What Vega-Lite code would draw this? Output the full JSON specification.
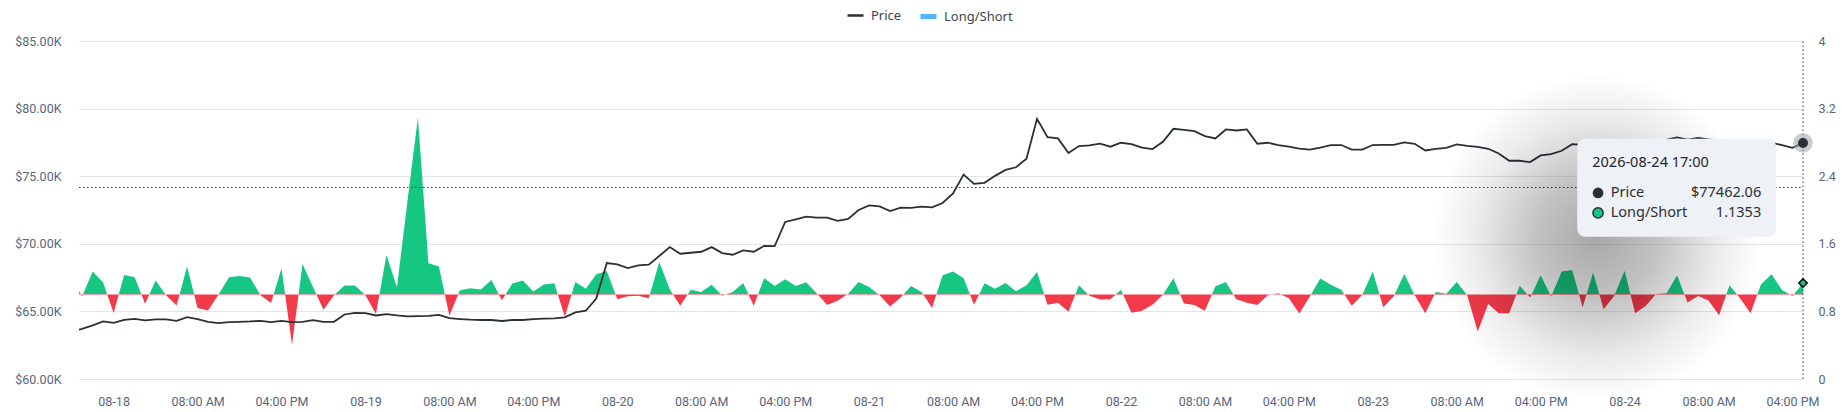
{
  "$schema": "https://vega.github.io/schema/vega-lite/v6.json",
  "width": 1724,
  "height": 338,
  "autosize": "none",
  "padding": {"left": 79, "top": 41, "right": 40, "bottom": 33},
  "background": "white",
  "config": {
    "view": {"stroke": null},
    "font": "Noto Sans",
    "axis": {"labelFont": "Roboto", "labelFontSize": 12.5, "labelColor": "#58667e", "ticks": false, "domain": false, "title": null},
    "legend": {"labelFont": "Noto Sans", "labelFontSize": 13, "labelColor": "#3d4451", "labelOffset": 6, "symbolType": "stroke", "symbolSize": 256}
  },
  "data": {
    "values": [
      {"t": "2026-08-17T20:00:00Z", "price": 63550, "ls": 1.19},
      {"t": "2026-08-17T21:00:00Z", "price": 63700, "ls": 0.976},
      {"t": "2026-08-17T22:00:00Z", "price": 63960, "ls": 1.272},
      {"t": "2026-08-17T23:00:00Z", "price": 64256, "ls": 1.142},
      {"t": "2026-08-18T00:00:00Z", "price": 64157, "ls": 0.78},
      {"t": "2026-08-18T01:00:00Z", "price": 64379, "ls": 1.232},
      {"t": "2026-08-18T02:00:00Z", "price": 64453, "ls": 1.205},
      {"t": "2026-08-18T03:00:00Z", "price": 64330, "ls": 0.89},
      {"t": "2026-08-18T04:00:00Z", "price": 64403, "ls": 1.165},
      {"t": "2026-08-18T05:00:00Z", "price": 64403, "ls": 0.99},
      {"t": "2026-08-18T06:00:00Z", "price": 64305, "ls": 0.87},
      {"t": "2026-08-18T07:00:00Z", "price": 64576, "ls": 1.331},
      {"t": "2026-08-18T08:00:00Z", "price": 64428, "ls": 0.84},
      {"t": "2026-08-18T09:00:00Z", "price": 64231, "ls": 0.81},
      {"t": "2026-08-18T10:00:00Z", "price": 64133, "ls": 1.0},
      {"t": "2026-08-18T11:00:00Z", "price": 64207, "ls": 1.205},
      {"t": "2026-08-18T12:00:00Z", "price": 64231, "ls": 1.22},
      {"t": "2026-08-18T13:00:00Z", "price": 64256, "ls": 1.2},
      {"t": "2026-08-18T14:00:00Z", "price": 64305, "ls": 0.99},
      {"t": "2026-08-18T15:00:00Z", "price": 64207, "ls": 0.9},
      {"t": "2026-08-18T16:00:00Z", "price": 64305, "ls": 1.31},
      {"t": "2026-08-18T17:00:00Z", "price": 64207, "ls": 0.405},
      {"t": "2026-08-18T18:00:00Z", "price": 64231, "ls": 1.362},
      {"t": "2026-08-18T19:00:00Z", "price": 64354, "ls": 1.09},
      {"t": "2026-08-18T20:00:00Z", "price": 64231, "ls": 0.82},
      {"t": "2026-08-18T21:00:00Z", "price": 64231, "ls": 0.99},
      {"t": "2026-08-18T22:00:00Z", "price": 64772, "ls": 1.106},
      {"t": "2026-08-18T23:00:00Z", "price": 64895, "ls": 1.106},
      {"t": "2026-08-19T00:00:00Z", "price": 64871, "ls": 0.99},
      {"t": "2026-08-19T01:00:00Z", "price": 64699, "ls": 0.77},
      {"t": "2026-08-19T02:00:00Z", "price": 64797, "ls": 1.468},
      {"t": "2026-08-19T03:00:00Z", "price": 64699, "ls": 1.087},
      {"t": "2026-08-19T04:00:00Z", "price": 64625, "ls": 2.1},
      {"t": "2026-08-19T05:00:00Z", "price": 64649, "ls": 3.094},
      {"t": "2026-08-19T06:00:00Z", "price": 64674, "ls": 1.37},
      {"t": "2026-08-19T07:00:00Z", "price": 64748, "ls": 1.33},
      {"t": "2026-08-19T08:00:00Z", "price": 64502, "ls": 0.75},
      {"t": "2026-08-19T09:00:00Z", "price": 64436, "ls": 1.05},
      {"t": "2026-08-19T10:00:00Z", "price": 64387, "ls": 1.075},
      {"t": "2026-08-19T11:00:00Z", "price": 64363, "ls": 1.059},
      {"t": "2026-08-19T12:00:00Z", "price": 64363, "ls": 1.173},
      {"t": "2026-08-19T13:00:00Z", "price": 64289, "ls": 0.933},
      {"t": "2026-08-19T14:00:00Z", "price": 64363, "ls": 1.129},
      {"t": "2026-08-19T15:00:00Z", "price": 64363, "ls": 1.165},
      {"t": "2026-08-19T16:00:00Z", "price": 64436, "ls": 1.035},
      {"t": "2026-08-19T17:00:00Z", "price": 64461, "ls": 1.118},
      {"t": "2026-08-19T18:00:00Z", "price": 64485, "ls": 1.133},
      {"t": "2026-08-19T19:00:00Z", "price": 64559, "ls": 0.737},
      {"t": "2026-08-19T20:00:00Z", "price": 64926, "ls": 1.149},
      {"t": "2026-08-19T21:00:00Z", "price": 65049, "ls": 1.067},
      {"t": "2026-08-19T22:00:00Z", "price": 65956, "ls": 1.239},
      {"t": "2026-08-19T23:00:00Z", "price": 68578, "ls": 1.278},
      {"t": "2026-08-20T00:00:00Z", "price": 68480, "ls": 0.945},
      {"t": "2026-08-20T01:00:00Z", "price": 68210, "ls": 0.98},
      {"t": "2026-08-20T02:00:00Z", "price": 68407, "ls": 0.984},
      {"t": "2026-08-20T03:00:00Z", "price": 68456, "ls": 0.957},
      {"t": "2026-08-20T04:00:00Z", "price": 69093, "ls": 1.384},
      {"t": "2026-08-20T05:00:00Z", "price": 69755, "ls": 1.063},
      {"t": "2026-08-20T06:00:00Z", "price": 69265, "ls": 0.867},
      {"t": "2026-08-20T07:00:00Z", "price": 69338, "ls": 1.055},
      {"t": "2026-08-20T08:00:00Z", "price": 69412, "ls": 1.031},
      {"t": "2026-08-20T09:00:00Z", "price": 69755, "ls": 1.114},
      {"t": "2026-08-20T10:00:00Z", "price": 69314, "ls": 0.984},
      {"t": "2026-08-20T11:00:00Z", "price": 69191, "ls": 1.031},
      {"t": "2026-08-20T12:00:00Z", "price": 69510, "ls": 1.137},
      {"t": "2026-08-20T13:00:00Z", "price": 69412, "ls": 0.867},
      {"t": "2026-08-20T14:00:00Z", "price": 69853, "ls": 1.192},
      {"t": "2026-08-20T15:00:00Z", "price": 69828, "ls": 1.102},
      {"t": "2026-08-20T16:00:00Z", "price": 71617, "ls": 1.18},
      {"t": "2026-08-20T17:00:00Z", "price": 71814, "ls": 1.102},
      {"t": "2026-08-20T18:00:00Z", "price": 72010, "ls": 1.145},
      {"t": "2026-08-20T19:00:00Z", "price": 71936, "ls": 1.016},
      {"t": "2026-08-20T20:00:00Z", "price": 71936, "ls": 0.875},
      {"t": "2026-08-20T21:00:00Z", "price": 71691, "ls": 0.925},
      {"t": "2026-08-20T22:00:00Z", "price": 71838, "ls": 1.008},
      {"t": "2026-08-20T23:00:00Z", "price": 72500, "ls": 1.149},
      {"t": "2026-08-21T00:00:00Z", "price": 72843, "ls": 1.09},
      {"t": "2026-08-21T01:00:00Z", "price": 72769, "ls": 0.99},
      {"t": "2026-08-21T02:00:00Z", "price": 72426, "ls": 0.859},
      {"t": "2026-08-21T03:00:00Z", "price": 72671, "ls": 0.965},
      {"t": "2026-08-21T04:00:00Z", "price": 72660, "ls": 1.102},
      {"t": "2026-08-21T05:00:00Z", "price": 72745, "ls": 1.031},
      {"t": "2026-08-21T06:00:00Z", "price": 72696, "ls": 0.839},
      {"t": "2026-08-21T07:00:00Z", "price": 73015, "ls": 1.227},
      {"t": "2026-08-21T08:00:00Z", "price": 73725, "ls": 1.271},
      {"t": "2026-08-21T09:00:00Z", "price": 75122, "ls": 1.192},
      {"t": "2026-08-21T10:00:00Z", "price": 74436, "ls": 0.878},
      {"t": "2026-08-21T11:00:00Z", "price": 74510, "ls": 1.133},
      {"t": "2026-08-21T12:00:00Z", "price": 75025, "ls": 1.067},
      {"t": "2026-08-21T13:00:00Z", "price": 75466, "ls": 1.137},
      {"t": "2026-08-21T14:00:00Z", "price": 75662, "ls": 1.039},
      {"t": "2026-08-21T15:00:00Z", "price": 76299, "ls": 1.11},
      {"t": "2026-08-21T16:00:00Z", "price": 79240, "ls": 1.267},
      {"t": "2026-08-21T17:00:00Z", "price": 77892, "ls": 0.878},
      {"t": "2026-08-21T18:00:00Z", "price": 77794, "ls": 0.902},
      {"t": "2026-08-21T19:00:00Z", "price": 76716, "ls": 0.796},
      {"t": "2026-08-21T20:00:00Z", "price": 77230, "ls": 1.11},
      {"t": "2026-08-21T21:00:00Z", "price": 77279, "ls": 0.984},
      {"t": "2026-08-21T22:00:00Z", "price": 77402, "ls": 0.941},
      {"t": "2026-08-21T23:00:00Z", "price": 77181, "ls": 0.945},
      {"t": "2026-08-22T00:00:00Z", "price": 77475, "ls": 1.055},
      {"t": "2026-08-22T01:00:00Z", "price": 77377, "ls": 0.784},
      {"t": "2026-08-22T02:00:00Z", "price": 77108, "ls": 0.808},
      {"t": "2026-08-22T03:00:00Z", "price": 77010, "ls": 0.878},
      {"t": "2026-08-22T04:00:00Z", "price": 77549, "ls": 0.996},
      {"t": "2026-08-22T05:00:00Z", "price": 78505, "ls": 1.192},
      {"t": "2026-08-22T06:00:00Z", "price": 78431, "ls": 0.894},
      {"t": "2026-08-22T07:00:00Z", "price": 78333, "ls": 0.875},
      {"t": "2026-08-22T08:00:00Z", "price": 77966, "ls": 0.808},
      {"t": "2026-08-22T09:00:00Z", "price": 77794, "ls": 1.098},
      {"t": "2026-08-22T10:00:00Z", "price": 78456, "ls": 1.149},
      {"t": "2026-08-22T11:00:00Z", "price": 78382, "ls": 0.945},
      {"t": "2026-08-22T12:00:00Z", "price": 78456, "ls": 0.902},
      {"t": "2026-08-22T13:00:00Z", "price": 77402, "ls": 0.875},
      {"t": "2026-08-22T14:00:00Z", "price": 77475, "ls": 0.992},
      {"t": "2026-08-22T15:00:00Z", "price": 77304, "ls": 1.016},
      {"t": "2026-08-22T16:00:00Z", "price": 77181, "ls": 0.957},
      {"t": "2026-08-22T17:00:00Z", "price": 77034, "ls": 0.776},
      {"t": "2026-08-22T18:00:00Z", "price": 76961, "ls": 0.976},
      {"t": "2026-08-22T19:00:00Z", "price": 77108, "ls": 1.188},
      {"t": "2026-08-22T20:00:00Z", "price": 77304, "ls": 1.114},
      {"t": "2026-08-22T21:00:00Z", "price": 77304, "ls": 1.055},
      {"t": "2026-08-22T22:00:00Z", "price": 76961, "ls": 0.867},
      {"t": "2026-08-22T23:00:00Z", "price": 76961, "ls": 0.996},
      {"t": "2026-08-23T00:00:00Z", "price": 77304, "ls": 1.271},
      {"t": "2026-08-23T01:00:00Z", "price": 77322, "ls": 0.85},
      {"t": "2026-08-23T02:00:00Z", "price": 77322, "ls": 0.98},
      {"t": "2026-08-23T03:00:00Z", "price": 77495, "ls": 1.243},
      {"t": "2026-08-23T04:00:00Z", "price": 77396, "ls": 0.99},
      {"t": "2026-08-23T05:00:00Z", "price": 76904, "ls": 0.779},
      {"t": "2026-08-23T06:00:00Z", "price": 77027, "ls": 1.031},
      {"t": "2026-08-23T07:00:00Z", "price": 77101, "ls": 1.01},
      {"t": "2026-08-23T08:00:00Z", "price": 77347, "ls": 1.149},
      {"t": "2026-08-23T09:00:00Z", "price": 77249, "ls": 0.99},
      {"t": "2026-08-23T10:00:00Z", "price": 77175, "ls": 0.563},
      {"t": "2026-08-23T11:00:00Z", "price": 77027, "ls": 0.889},
      {"t": "2026-08-23T12:00:00Z", "price": 76683, "ls": 0.779},
      {"t": "2026-08-23T13:00:00Z", "price": 76141, "ls": 0.779},
      {"t": "2026-08-23T14:00:00Z", "price": 76141, "ls": 1.105},
      {"t": "2026-08-23T15:00:00Z", "price": 76043, "ls": 0.964},
      {"t": "2026-08-23T16:00:00Z", "price": 76535, "ls": 1.227},
      {"t": "2026-08-23T17:00:00Z", "price": 76634, "ls": 0.975},
      {"t": "2026-08-23T18:00:00Z", "price": 76880, "ls": 1.271},
      {"t": "2026-08-23T19:00:00Z", "price": 77372, "ls": 1.29},
      {"t": "2026-08-23T20:00:00Z", "price": 77322, "ls": 0.85},
      {"t": "2026-08-23T21:00:00Z", "price": 77400, "ls": 1.259},
      {"t": "2026-08-23T22:00:00Z", "price": 77500, "ls": 0.826},
      {"t": "2026-08-23T23:00:00Z", "price": 77550, "ls": 0.983},
      {"t": "2026-08-24T00:00:00Z", "price": 77600, "ls": 1.282},
      {"t": "2026-08-24T01:00:00Z", "price": 77550, "ls": 0.779},
      {"t": "2026-08-24T02:00:00Z", "price": 77500, "ls": 0.865},
      {"t": "2026-08-24T03:00:00Z", "price": 77600, "ls": 1.005},
      {"t": "2026-08-24T04:00:00Z", "price": 77700, "ls": 1.015},
      {"t": "2026-08-24T05:00:00Z", "price": 77864, "ls": 1.227},
      {"t": "2026-08-24T06:00:00Z", "price": 77700, "ls": 0.905},
      {"t": "2026-08-24T07:00:00Z", "price": 77840, "ls": 0.983},
      {"t": "2026-08-24T08:00:00Z", "price": 77720, "ls": 0.928},
      {"t": "2026-08-24T09:00:00Z", "price": 77650, "ls": 0.755},
      {"t": "2026-08-24T10:00:00Z", "price": 77600, "ls": 1.109},
      {"t": "2026-08-24T11:00:00Z", "price": 77550, "ls": 0.956},
      {"t": "2026-08-24T12:00:00Z", "price": 77500, "ls": 0.779},
      {"t": "2026-08-24T13:00:00Z", "price": 77500, "ls": 1.121},
      {"t": "2026-08-24T14:00:00Z", "price": 77470, "ls": 1.239},
      {"t": "2026-08-24T15:00:00Z", "price": 77298, "ls": 1.054},
      {"t": "2026-08-24T16:00:00Z", "price": 77101, "ls": 0.983},
      {"t": "2026-08-24T17:00:00Z", "price": 77462.06, "ls": 1.1353}
    ]
  },
  "encoding": {
    "x": {
      "field": "t",
      "type": "temporal",
      "scale": {
        "type": "utc",
        "domain": [
          {"year": 2026, "month": 8, "date": 17, "hours": 20, "minutes": 42, "utc": true},
          {"year": 2026, "month": 8, "date": 24, "hours": 17, "utc": true}
        ]
      },
      "axis": {
        "orient": "bottom",
        "grid": false,
        "values": [
          {"year": 2026, "month": 8, "date": 18, "hours": 0, "utc": true},
          {"year": 2026, "month": 8, "date": 18, "hours": 8, "utc": true},
          {"year": 2026, "month": 8, "date": 18, "hours": 16, "utc": true},
          {"year": 2026, "month": 8, "date": 19, "hours": 0, "utc": true},
          {"year": 2026, "month": 8, "date": 19, "hours": 8, "utc": true},
          {"year": 2026, "month": 8, "date": 19, "hours": 16, "utc": true},
          {"year": 2026, "month": 8, "date": 20, "hours": 0, "utc": true},
          {"year": 2026, "month": 8, "date": 20, "hours": 8, "utc": true},
          {"year": 2026, "month": 8, "date": 20, "hours": 16, "utc": true},
          {"year": 2026, "month": 8, "date": 21, "hours": 0, "utc": true},
          {"year": 2026, "month": 8, "date": 21, "hours": 8, "utc": true},
          {"year": 2026, "month": 8, "date": 21, "hours": 16, "utc": true},
          {"year": 2026, "month": 8, "date": 22, "hours": 0, "utc": true},
          {"year": 2026, "month": 8, "date": 22, "hours": 8, "utc": true},
          {"year": 2026, "month": 8, "date": 22, "hours": 16, "utc": true},
          {"year": 2026, "month": 8, "date": 23, "hours": 0, "utc": true},
          {"year": 2026, "month": 8, "date": 23, "hours": 8, "utc": true},
          {"year": 2026, "month": 8, "date": 23, "hours": 16, "utc": true},
          {"year": 2026, "month": 8, "date": 24, "hours": 0, "utc": true},
          {"year": 2026, "month": 8, "date": 24, "hours": 8, "utc": true},
          {"year": 2026, "month": 8, "date": 24, "hours": 16, "utc": true}
        ],
        "labelPadding": 16,
        "labelOverlap": false,
        "labelFlush": false,
        "labelExpr": "utchours(datum.value) == 0 ? utcFormat(datum.value, '%m-%d') : utcFormat(datum.value, '%I:%M %p')"
      }
    }
  },
  "layer": [
    {
      "encoding": {
        "y": {
          "field": "ls",
          "type": "quantitative",
          "scale": {"domain": [0, 4], "nice": false, "zero": false},
          "axis": {"orient": "right", "values": [0, 0.8, 1.6, 2.4, 3.2, 4], "format": "~g", "grid": false, "labelPadding": 15, "labelAlign": "left"}
        }
      },
      "layer": [
        {
          "mark": {
            "type": "area",
            "clip": true,
            "interpolate": "linear",
            "color": {
              "gradient": "linear",
              "x1": 0, "y1": 0, "x2": 0, "y2": 1,
              "stops": [
                {"offset": 0, "color": "#16c784"},
                {"offset": 0.7787, "color": "#16c784"},
                {"offset": 0.7787, "color": "#f23a4a"},
                {"offset": 1, "color": "#f23a4a"}
              ]
            }
          },
          "encoding": {"y2": {"datum": 1}}
        },
        {
          "transform": [{"filter": "datum.ls == 1.1353"}],
          "mark": {"type": "rule", "clip": true, "strokeWidth": 5},
          "encoding": {
            "x": {"datum": {"year": 2026, "month": 8, "date": 20, "utc": true}, "type": "temporal"},
            "x2": {"datum": {"year": 2026, "month": 8, "date": 21, "utc": true}},
            "y": {"datum": -1},
            "stroke": {
              "datum": "Long/Short",
              "type": "nominal",
              "scale": {"domain": ["Long/Short"], "range": ["#4fb6ff"]},
              "legend": {"orient": "none", "direction": "horizontal", "legendX": 839, "legendY": -35, "title": null, "symbolStrokeWidth": 5, "labelOffset": 5}
            }
          }
        },
        {
          "transform": [{"filter": "datum.ls == 1.1353"}],
          "mark": {"type": "rule", "color": "#333333", "strokeWidth": 1, "strokeDash": [1.5, 2.5]},
          "encoding": {
            "x": {"field": "t", "type": "temporal"},
            "y": {"datum": 0},
            "y2": {"datum": 4}
          }
        },
        {
          "transform": [{"filter": "datum.ls == 1.1353"}],
          "mark": {"type": "point", "shape": "diamond", "filled": true, "size": 70, "fill": "#16c784", "stroke": "#000000", "strokeWidth": 1.5, "opacity": 1}
        }
      ]
    },
    {
      "encoding": {
        "y": {
          "field": "price",
          "type": "quantitative",
          "scale": {"domain": [60000, 85000], "nice": false, "zero": false},
          "axis": {
            "orient": "left",
            "values": [60000, 65000, 70000, 75000, 80000, 85000],
            "grid": true,
            "gridColor": "#e3e5e8",
            "labelPadding": 18,
            "labelExpr": "'$' + format(datum.value / 1000, '.2f') + 'K'"
          }
        }
      },
      "layer": [
        {
          "transform": [{"filter": "datum.ls == 1.1353"}],
          "mark": {"type": "rule", "color": "#333333", "strokeWidth": 1, "strokeDash": [1.5, 2.5]},
          "encoding": {
            "x": {"datum": {"year": 2026, "month": 8, "date": 17, "hours": 20, "minutes": 42, "utc": true}, "type": "temporal"},
            "x2": {"datum": {"year": 2026, "month": 8, "date": 24, "hours": 17, "utc": true}},
            "y": {"datum": 74165}
          }
        },
        {
          "mark": {"type": "line", "clip": true, "strokeWidth": 1.8, "interpolate": "linear"},
          "encoding": {
            "color": {
              "datum": "Price",
              "type": "nominal",
              "scale": {"domain": ["Price"], "range": ["#2b2f36"]},
              "legend": {"orient": "none", "direction": "horizontal", "legendX": 767, "legendY": -35, "title": null, "symbolStrokeWidth": 2.5}
            }
          }
        },
        {
          "transform": [{"filter": "datum.ls == 1.1353"}],
          "mark": {"type": "point", "filled": true, "size": 380, "color": "#9ea3a8", "opacity": 0.55}
        },
        {
          "transform": [{"filter": "datum.ls == 1.1353"}],
          "mark": {"type": "point", "filled": true, "size": 100, "color": "#2b2f36", "opacity": 1}
        },
        {
          "transform": [{"filter": "datum.ls == 1.1353"}],
          "mark": {
            "type": "rect",
            "fill": {
              "gradient": "radial",
              "x1": 0.5, "y1": 0.5, "r1": 0,
              "x2": 0.5, "y2": 0.5, "r2": 0.5,
              "stops": [
                {"offset": 0, "color": "rgba(0,0,0,0.34)"},
                {"offset": 0.3, "color": "rgba(0,0,0,0.24)"},
                {"offset": 0.6, "color": "rgba(0,0,0,0.08)"},
                {"offset": 0.82, "color": "rgba(0,0,0,0)"},
                {"offset": 1, "color": "rgba(0,0,0,0)"}
              ]
            }
          },
          "encoding": {
            "x": {"datum": {"year": 2026, "month": 8, "date": 23, "hours": 2, "minutes": 19, "utc": true}, "type": "temporal"},
            "x2": {"datum": {"year": 2026, "month": 8, "date": 24, "hours": 16, "minutes": 24, "utc": true}},
            "y": {"datum": 85171},
            "y2": {"datum": 55671}
          }
        },
        {
          "transform": [{"filter": "datum.ls == 1.1353"}],
          "mark": {"type": "rect", "fill": "#eef1f5", "cornerRadius": 8},
          "encoding": {
            "x": {"datum": {"year": 2026, "month": 8, "date": 23, "hours": 19, "minutes": 29, "utc": true}, "type": "temporal"},
            "x2": {"datum": {"year": 2026, "month": 8, "date": 24, "hours": 14, "minutes": 26, "utc": true}},
            "y": {"datum": 77774},
            "y2": {"datum": 70517}
          }
        },
        {
          "transform": [{"filter": "datum.ls == 1.1353"}],
          "mark": {"type": "text", "align": "left", "baseline": "middle", "font": "Noto Sans", "fontSize": 14.5, "color": "#222531"},
          "encoding": {
            "x": {"datum": {"year": 2026, "month": 8, "date": 23, "hours": 20, "minutes": 55, "utc": true}, "type": "temporal"},
            "y": {"datum": 75974},
            "text": {"field": "t", "type": "temporal", "timeUnit": "utcyearmonthdatehoursminutes", "format": "%Y-%m-%d %H:%M"}
          }
        },
        {
          "transform": [{"filter": "datum.ls == 1.1353"}],
          "mark": {"type": "point", "filled": true, "size": 115, "color": "#2b2f36", "opacity": 1},
          "encoding": {
            "x": {"datum": {"year": 2026, "month": 8, "date": 23, "hours": 21, "minutes": 28, "utc": true}, "type": "temporal"},
            "y": {"datum": 73762}
          }
        },
        {
          "transform": [{"filter": "datum.ls == 1.1353"}],
          "mark": {"type": "point", "filled": true, "size": 105, "fill": "#16c784", "stroke": "#2b2f36", "strokeWidth": 1.5, "opacity": 1},
          "encoding": {
            "x": {"datum": {"year": 2026, "month": 8, "date": 23, "hours": 21, "minutes": 28, "utc": true}, "type": "temporal"},
            "y": {"datum": 72287}
          }
        },
        {
          "transform": [{"filter": "datum.ls == 1.1353"}],
          "mark": {"type": "text", "align": "left", "baseline": "middle", "font": "Noto Sans", "fontSize": 14.5, "color": "#2b2f36"},
          "encoding": {
            "x": {"datum": {"year": 2026, "month": 8, "date": 23, "hours": 22, "minutes": 40, "utc": true}, "type": "temporal"},
            "y": {"datum": 73762},
            "text": {"value": "Price"}
          }
        },
        {
          "transform": [{"filter": "datum.ls == 1.1353"}],
          "mark": {"type": "text", "align": "left", "baseline": "middle", "font": "Noto Sans", "fontSize": 14.5, "color": "#2b2f36"},
          "encoding": {
            "x": {"datum": {"year": 2026, "month": 8, "date": 23, "hours": 22, "minutes": 40, "utc": true}, "type": "temporal"},
            "y": {"datum": 72287},
            "text": {"value": "Long/Short"}
          }
        },
        {
          "transform": [{"filter": "datum.ls == 1.1353"}],
          "mark": {"type": "text", "align": "right", "baseline": "middle", "font": "Noto Sans", "fontSize": 14.5, "color": "#2b2f36"},
          "encoding": {
            "x": {"datum": {"year": 2026, "month": 8, "date": 24, "hours": 13, "minutes": 1, "utc": true}, "type": "temporal"},
            "y": {"datum": 73762},
            "text": {"field": "price", "format": "$.2f"}
          }
        },
        {
          "transform": [{"filter": "datum.ls == 1.1353"}],
          "mark": {"type": "text", "align": "right", "baseline": "middle", "font": "Noto Sans", "fontSize": 14.5, "color": "#2b2f36"},
          "encoding": {
            "x": {"datum": {"year": 2026, "month": 8, "date": 24, "hours": 13, "minutes": 1, "utc": true}, "type": "temporal"},
            "y": {"datum": 72287},
            "text": {"field": "ls", "format": ".4f"}
          }
        }
      ]
    }
  ],
  "resolve": {"scale": {"y": "independent"}, "axis": {"y": "independent"}}
}
